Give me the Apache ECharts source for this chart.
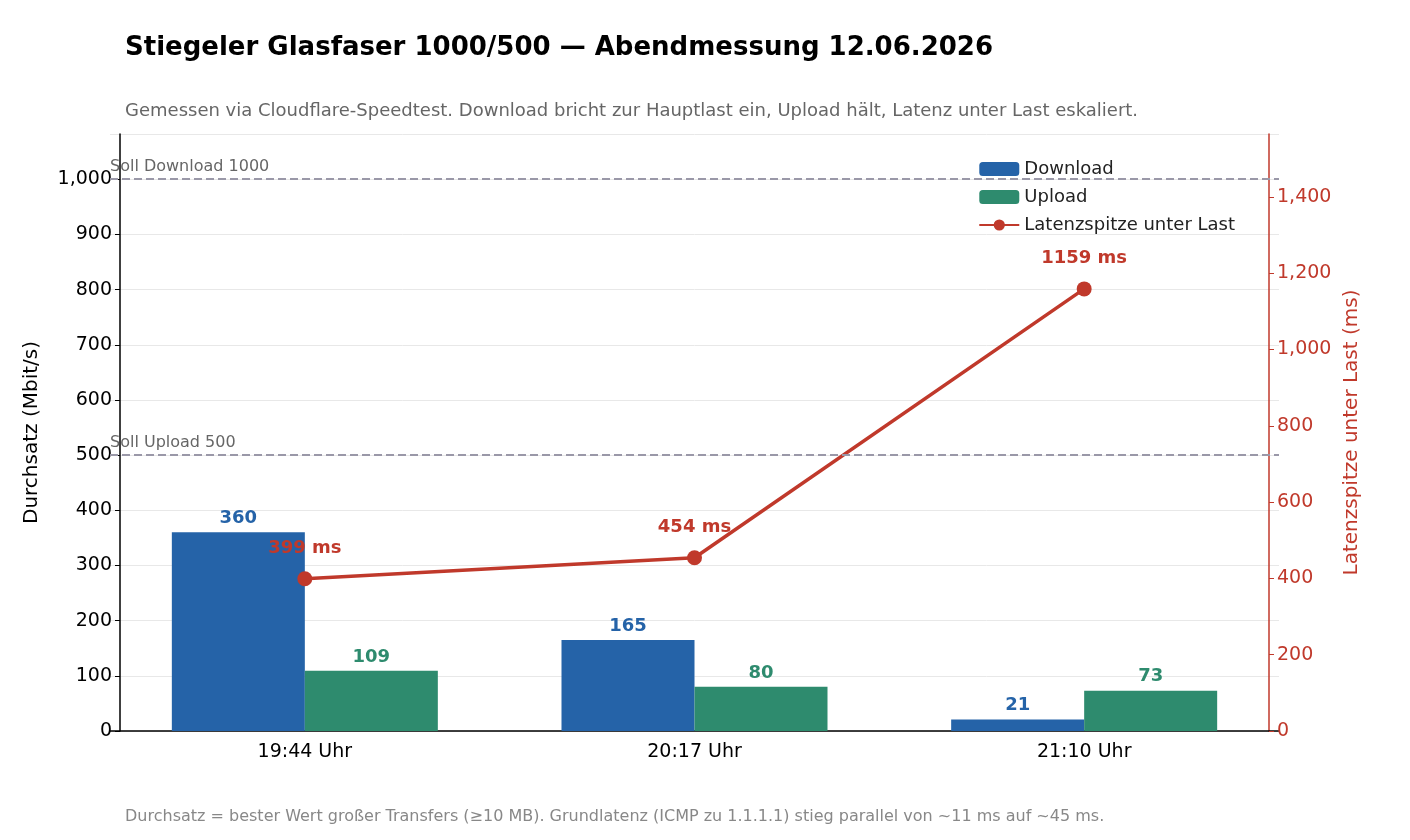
<!DOCTYPE html>
<html><head><meta charset="utf-8">
<script src="https://cdn.jsdelivr.net/npm/echarts@6/dist/echarts.min.js"></script>
<style>html,body{margin:0;padding:0;background:#fff}#c{width:1410px;height:840px}</style>
</head><body><div id="c"></div>
<script>
var times = ['19:44 Uhr', '20:17 Uhr', '21:10 Uhr'];
var download = [360, 165, 21];
var upload = [109, 80, 73];
var latency = [399, 454, 1159];
var targets = [{ name: 'Soll Download 1000', value: 1000 }, { name: 'Soll Upload 500', value: 500 }];

var blue = '#2563a8', green = '#2e8b6e', red = '#c0392b';
var font = 'DejaVu Sans';
var chart = echarts.init(document.getElementById('c'));
chart.setOption({
  animation: false,
  textStyle: { fontFamily: font },
  title: [
    { text: 'Stiegeler Glasfaser 1000/500 — Abendmessung 12.06.2026', left: 120, top: 30,
      textStyle: { fontSize: 26, fontWeight: 'bold', color: '#000', fontFamily: font } },
    { text: 'Gemessen via Cloudflare-Speedtest. Download bricht zur Hauptlast ein, Upload hält, Latenz unter Last eskaliert.',
      left: 120, top: 97, textStyle: { fontSize: 18, fontWeight: 'normal', color: '#666', fontFamily: font } },
    { text: 'Durchsatz = bester Wert großer Transfers (≥10 MB). Grundlatenz (ICMP zu 1.1.1.1) stieg parallel von ~11 ms auf ~45 ms.',
      left: 120, top: 804, textStyle: { fontSize: 16, fontWeight: 'normal', color: '#888', fontFamily: font } }
  ],
  legend: {
    orient: 'vertical', right: 170, top: 155, itemGap: 10, itemWidth: 40, itemHeight: 14,
    textStyle: { fontSize: 18, color: '#222' },
    data: ['Download', 'Upload', 'Latenzspitze unter Last']
  },
  grid: { left: 110, right: 131, top: 134, bottom: 109 },
  xAxis: {
    type: 'category', data: times,
    axisLine: { lineStyle: { color: '#000', width: 1.5 } },
    axisTick: { alignWithLabel: true, lineStyle: { color: '#000' } },
    axisLabel: { fontSize: 19, color: '#000', margin: 12 }
  },
  yAxis: [
    { type: 'value', min: 0, max: 1082, interval: 100, offset: -10,
      name: 'Durchsatz (Mbit/s)', nameLocation: 'middle', nameGap: 78,
      nameTextStyle: { fontSize: 20, color: '#000' },
      axisLine: { show: true, lineStyle: { color: '#000', width: 1.5 } },
      axisTick: { show: true },
      axisLabel: { fontSize: 19, color: '#000', showMaxLabel: false },
      splitLine: { lineStyle: { color: '#e8e8e8' } } },
    { type: 'value', min: 0, max: 1565, interval: 200, offset: -10, position: 'right',
      name: 'Latenzspitze unter Last (ms)', nameLocation: 'middle', nameGap: 72,
      nameTextStyle: { fontSize: 20, color: red },
      axisLine: { show: true, lineStyle: { color: red, width: 1.5 } },
      axisTick: { show: true, lineStyle: { color: red } },
      axisLabel: { fontSize: 19, color: red, showMaxLabel: false },
      splitLine: { show: false } }
  ],
  series: [
    { name: 'Download', type: 'bar', data: download, barWidth: 133, barGap: '0%',
      itemStyle: { color: blue },
      label: { show: true, position: 'top', color: blue, fontWeight: 'bold', fontSize: 18 },
      markLine: {
        symbol: 'none', silent: true,
        lineStyle: { color: '#9a98a8', type: 'dashed', width: 2 },
        label: { position: 'insideStartTop', formatter: '{b}', color: '#666', fontSize: 16, distance: [0, 4] },
        data: targets.map(function (t) { return { name: t.name, yAxis: t.value }; })
      } },
    { name: 'Upload', type: 'bar', data: upload, barWidth: 133,
      itemStyle: { color: green },
      label: { show: true, position: 'top', color: green, fontWeight: 'bold', fontSize: 18 } },
    { name: 'Latenzspitze unter Last', type: 'line', yAxisIndex: 1, data: latency,
      symbol: 'circle', symbolSize: 15, lineStyle: { color: red, width: 3.5 }, itemStyle: { color: red },
      label: { show: true, position: 'top', distance: 14, formatter: '{c} ms', color: red, fontWeight: 'bold', fontSize: 18 } }
  ]
});
</script></body></html>
